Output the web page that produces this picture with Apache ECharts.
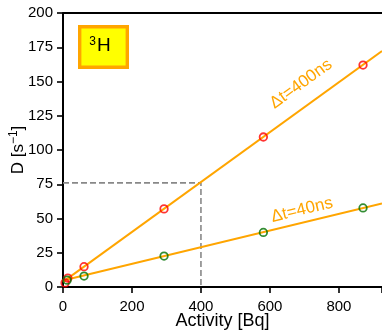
<!DOCTYPE html>
<html><head><meta charset="utf-8">
<script src="https://cdn.jsdelivr.net/npm/echarts@6/dist/echarts.min.js"></script>
<style>html,body{margin:0;padding:0;background:#fff}#c{width:382px;height:332px}</style>
</head><body><div id="c"></div>
<script>
var redX = [6, 14, 61, 293, 581, 870];
var redY = [3, 6.5, 14.8, 57, 109.5, 162];
var greenX = [12, 61, 293, 581, 870];
var greenY = [5, 8, 22.6, 39.8, 57.7];
var fit400X = [0, 925];
var fit400Y = [3.7, 172.2];
var fit40X = [0, 925];
var fit40Y = [4.8, 61.0];
var guideX = [0, 400, 400];
var guideY = [76, 76, 0];
var xTicks = [0, 200, 400, 600, 800];
var yTicks = [0, 25, 50, 75, 100, 125, 150, 175, 200];

function pairs(xs, ys){ return xs.map(function(x,i){ return [x, ys[i]]; }); }

var FONT = 'Liberation Sans';
var chart = echarts.init(document.getElementById('c'), null, {renderer:'canvas'});
chart.setOption({
  animation: false,
  backgroundColor: '#fff',
  textStyle: {fontFamily: FONT},
  grid: {left: 63, right: 0, top: 13, bottom: 45, containLabel: false, outerBoundsMode: 'none'},
  xAxis: {
    type: 'value', min: 0, max: 925, interval: 200,
    name: 'Activity [Bq]', nameLocation: 'middle', nameGap: 25, nameMoveOverlap: false,
    nameTextStyle: {fontSize: 18, color: '#000', fontFamily: FONT},
    axisLine: {onZero: false, lineStyle: {color: '#000', width: 2}},
    axisTick: {inside: false, length: 6, lineStyle: {color: '#000', width: 1.6}},
    axisLabel: {fontSize: 15, color: '#000', margin: 12, fontFamily: FONT,
      formatter: function(v){ return xTicks.indexOf(v) >= 0 ? String(v) : ''; }},
    splitLine: {show: false}
  },
  yAxis: {
    type: 'value', min: 0, max: 200, interval: 25,
    name: '{n|D [s}{s|−1}{n|]}', nameLocation: 'middle', nameGap: 34, nameRotate: 90, nameMoveOverlap: false,
    nameTextStyle: {color: '#000', fontFamily: FONT, rich: {
      n: {fontSize: 17, color: '#000', fontFamily: FONT},
      s: {fontSize: 12, color: '#000', fontFamily: FONT, verticalAlign: 'top', padding: [0,0,9,0]}
    }},
    axisLine: {onZero: false, lineStyle: {color: '#000', width: 2}},
    axisTick: {inside: false, length: 6, lineStyle: {color: '#000', width: 1.6}},
    axisLabel: {fontSize: 15, color: '#000', margin: 10, fontFamily: FONT,
      formatter: function(v){ return yTicks.indexOf(v) >= 0 ? String(v) : ''; }},
    splitLine: {show: false}
  },
  series: [
    {type: 'line', data: pairs(guideX, guideY), symbol: 'none', silent: true,
      lineStyle: {color: '#888', width: 1.6, type: [6, 3]}, z: 1},
    {type: 'line', data: pairs(fit400X, fit400Y), symbol: 'none',
      lineStyle: {color: '#ffa500', width: 2}, z: 2},
    {type: 'line', data: pairs(fit40X, fit40Y), symbol: 'none',
      lineStyle: {color: '#ffa500', width: 2}, z: 2},
    {type: 'scatter', data: pairs(redX, redY), symbol: 'circle', symbolSize: 7.5,
      itemStyle: {color: 'rgba(0,0,0,0)', borderColor: '#ff0000', borderWidth: 1.8}, z: 3},
    {type: 'scatter', data: pairs(greenX, greenY), symbol: 'circle', symbolSize: 7.5,
      itemStyle: {color: 'rgba(0,0,0,0)', borderColor: '#007000', borderWidth: 1.8}, z: 3}
  ],
  graphic: [
    {type: 'line', shape: {x1: 63, y1: 13, x2: 382, y2: 13}, style: {stroke: '#000', lineWidth: 2}, z: 10},
    {type: 'rect', shape: {x: 79.7, y: 26.7, width: 47.6, height: 40.6},
      style: {fill: '#ffff00', stroke: '#ffa500', lineWidth: 3.4}, z: 10},
    {type: 'text', x: 100, y: 46, z: 11,
      style: {text: '{s|3}{h|H}', align: 'center', verticalAlign: 'middle',
        rich: {s: {fontSize: 12, fontFamily: FONT, fill: '#000', verticalAlign: 'top', padding: [0,1,9,0]},
               h: {fontSize: 19, fontFamily: FONT, fill: '#000'}}}},
    {type: 'text', x: 301, y: 84, rotation: 36 * Math.PI / 180, z: 11,
      style: {text: 'Δt=400ns', fontSize: 17, fontFamily: FONT, fill: '#ffa500', align: 'center', verticalAlign: 'middle'}},
    {type: 'text', x: 302, y: 210, rotation: 13.6 * Math.PI / 180, z: 11,
      style: {text: 'Δt=40ns', fontSize: 17, fontFamily: FONT, fill: '#ffa500', align: 'center', verticalAlign: 'middle'}}
  ]
});
</script></body></html>
